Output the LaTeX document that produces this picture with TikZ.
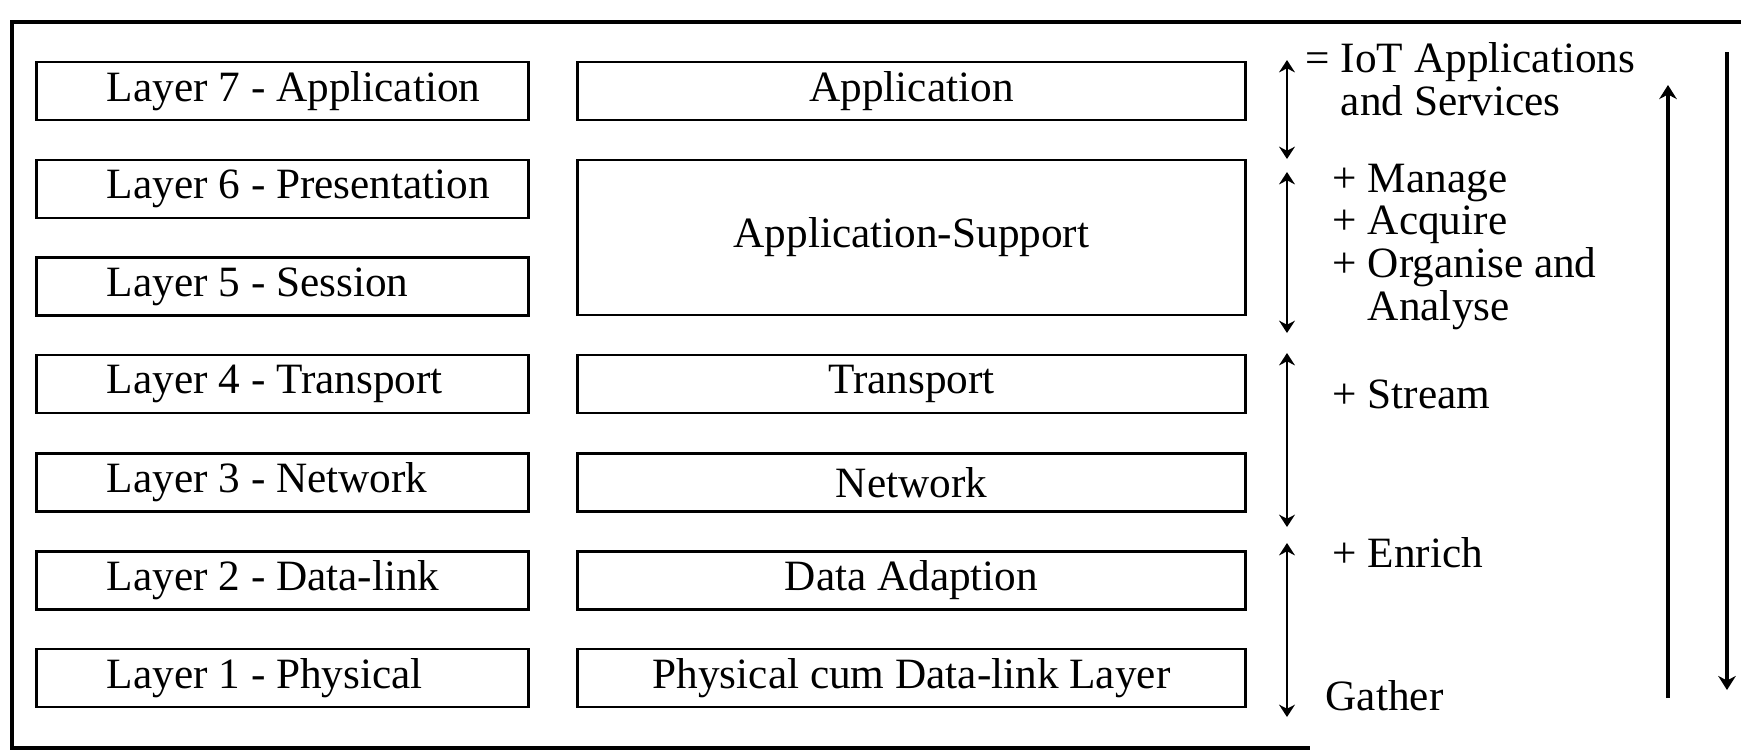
\documentclass[tikz,border=0pt]{standalone}
\usepackage{fontspec}
\setmainfont{Liberation Serif}
\usetikzlibrary{arrows.meta}
\newcommand{\lyr}[1]{\makebox[3.51cm][l]{#1}}

\begin{document}
\begin{tikzpicture}[x=0.01cm, y=-0.01cm,
    every node/.style = {font=\fontsize{12.3}{12.1}\selectfont},
    osi/.style = {draw, line width=0.8pt, minimum width=4.91cm, minimum height=0.58cm, inner xsep=0.7cm, inner ysep=0pt},
    iot/.style = {draw, line width=0.8pt, minimum width=6.67cm, minimum height=0.58cm, inner ysep=0pt},
    note/.style = {anchor=base west, align=left, inner sep=0pt}]
    \useasboundingbox (0,0) rectangle (1741,750);
    \draw [line width=0.9pt] (1741,22) -- (12,22) -- (12,748) -- (1310,748);

    % OSI layers
    \node [osi] (l7) at (282.5,91) {\lyr{Layer 7 - Application}};
    \node [osi] (l6) at (282.5,189) {\lyr{Layer 6 - Presentation}};
    \node [osi] (l5) at (282.5,286.5) {\lyr{Layer 5 - Session}};
    \node [osi] (l4) at (282.5,384) {\lyr{Layer 4 - Transport}};
    \node [osi] (l3) at (282.5,482.5) {\lyr{Layer 3 - Network}};
    \node [osi] (l2) at (282.5,580.5) {\lyr{Layer 2 - Data-link}};
    \node [osi] (l1) at (282.5,678) {\lyr{Layer 1 - Physical}};

    % IoT layers
    \node [iot] (app) at (911.5,91) {Application};
    \node [iot, minimum height=1.55cm] (appsup) at (911.5,237.5) {Application-Support};
    \node [iot] (trans) at (911.5,384) {Transport};
    \node [iot] (net) at (911.5,482.5) {Network};
    \node [iot] (adapt) at (911.5,580.5) {Data Adaption};
    \node [iot] (phy) at (911.5,678) {Physical cum Data-link Layer};

    % functions (base = last line)
    \node [note] (serv) at (1305,115) {= IoT Applications\\\phantom{= }and Services};
    \node [note] (mng) at (1332,320) {+ Manage\\+ Acquire\\+ Organise and\\\phantom{+ }Analyse};
    \node [note] (strm) at (1332,408) {+ Stream};
    \node [note] (enr) at (1332,567) {+ Enrich};
    \node [note] (gath) at (1325,710) {Gather};

    \coordinate (a1t) at (1287,60);
    \coordinate (a1b) at (1287,159);
    \coordinate (a2t) at (1287,172);
    \coordinate (a2b) at (1287,333);
    \coordinate (a3t) at (1287,353);
    \coordinate (a3b) at (1287,527);
    \coordinate (a4t) at (1287,543);
    \coordinate (a4b) at (1287,717);
    \draw [<->, >={Stealth[length=3.5pt,width=4.5pt]}, line width=0.6pt] (a1t) -- (a1b);
    \draw [<->, >={Stealth[length=3.5pt,width=4.5pt]}, line width=0.6pt] (a2t) -- (a2b);
    \draw [<->, >={Stealth[length=3.5pt,width=4.5pt]}, line width=0.6pt] (a3t) -- (a3b);
    \draw [<->, >={Stealth[length=3.5pt,width=4.5pt]}, line width=0.6pt] (a4t) -- (a4b);

    \coordinate (upb) at (1668,698);
    \coordinate (upt) at (1668,85);
    \coordinate (dnt) at (1727,52);
    \coordinate (dnb) at (1727,690);
    \draw [->, >={Stealth[length=4pt,width=5pt]}, line width=1pt] (upb) -- (upt);
    \draw [->, >={Stealth[length=4pt,width=5pt]}, line width=1pt] (dnt) -- (dnb);
\end{tikzpicture}
\end{document}
